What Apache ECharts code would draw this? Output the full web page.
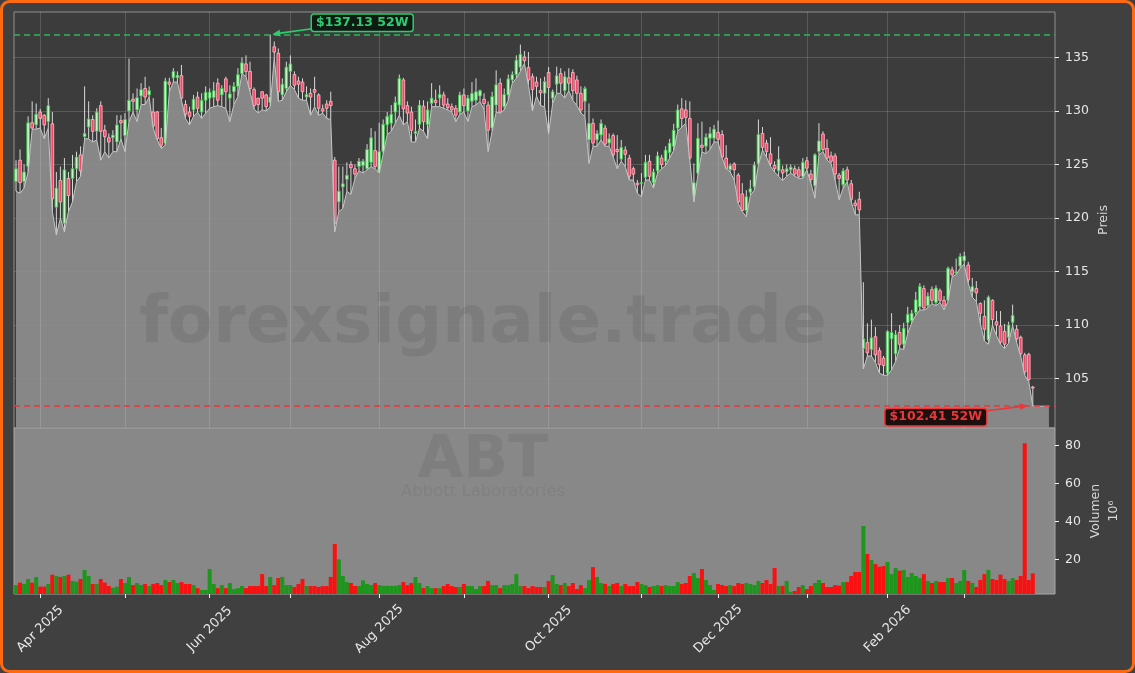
<!DOCTYPE html>
<html><head><meta charset="utf-8">
<script src="https://cdn.jsdelivr.net/npm/echarts@6/dist/echarts.min.js"></script>
<style>html,body{margin:0;padding:0;background:#ffffff;}#c{width:1135px;height:673px;}</style>
</head><body><div id="c"></div>
<script>
// ---------------- data ----------------
const ticker = 'ABT';
const companyName = 'Abbott Laboratories';
const watermarkText = 'forexsignale.trade';
const startDate = '2025-03-24';
const holidays = ['2025-04-18','2025-05-26','2025-06-19','2025-07-04','2025-09-01','2025-11-27','2025-12-25','2026-01-01','2026-01-19','2026-02-16'];
const priceTicks = [105,110,115,120,125,130,135];
const volumeTicks = [20,40,60,80];
const monthNames = ['Jan','Feb','Mar','Apr','May','Jun','Jul','Aug','Sep','Oct','Nov','Dec'];

const opens = [123.4,125.4,123.4,124.8,128.9,128.7,129.9,129.6,129.0,128.8,121.0,123.5,119.5,123.7,123.7,124.6,125.9,127.6,128.5,129.2,
128.1,130.5,128.2,127.5,127.5,127.1,129.1,127.7,130.0,131.1,130.1,131.4,132.1,131.5,129.9,129.9,127.5,127.0,132.7,133.1,
133.1,133.3,130.6,129.9,130.1,131.3,129.9,131.0,131.2,131.25,132.6,131.5,133.0,131.2,131.8,132.3,133.5,134.4,133.7,132.0,
131.2,131.8,131.5,130.8,136.0,135.4,131.5,132.1,133.7,133.4,132.8,132.7,131.3,131.65,132.0,131.5,130.2,130.65,130.9,125.4,
121.5,122.9,123.6,125.0,124.6,124.8,124.9,124.6,125.2,126.3,124.3,126.2,128.7,128.85,129.9,130.55,132.9,130.5,129.9,127.9,
128.75,130.45,128.75,130.7,131.0,131.2,131.5,130.65,130.4,130.25,129.9,131.5,130.0,130.9,131.0,131.4,131.1,130.55,128.4,130.55,
132.6,130.4,131.5,132.9,133.4,134.1,135.05,134.05,133.2,132.7,131.9,131.65,133.6,131.2,132.5,133.5,131.9,133.1,133.6,132.9,
131.65,130.9,127.3,128.85,127.3,127.75,128.4,127.0,127.7,126.4,125.5,126.35,125.6,124.6,123.25,123.2,123.8,125.3,123.3,124.4,
125.6,125.3,126.1,126.7,128.4,130.2,130.1,129.3,122.0,124.2,126.8,126.7,127.45,127.45,128.0,127.8,125.6,124.5,125.05,124.0,
122.25,120.7,122.4,122.9,125.05,127.9,127.0,126.0,124.9,124.4,124.5,124.3,124.5,124.6,124.5,123.85,125.35,124.1,123.0,126.2,
127.85,126.5,125.8,125.8,124.0,123.1,124.5,123.2,121.4,121.75,107.8,108.35,107.7,108.9,107.6,106.9,105.5,108.7,107.3,109.3,
108.2,110.2,110.4,111.15,111.7,113.4,111.8,113.3,112.1,113.2,112.3,112.3,115.15,114.9,115.5,116.0,115.6,113.1,113.4,112.0,
110.8,108.6,112.3,110.3,109.9,109.4,108.85,110.25,109.6,108.85,107.2,107.25,104.2];
const closes = [124.6,123.3,124.3,128.9,128.4,129.7,129.3,128.7,130.5,121.8,122.8,121.5,124.5,122.1,124.6,125.7,124.4,127.9,129.25,128.1,
129.9,128.1,127.6,127.1,127.75,128.7,128.9,129.2,131.0,130.9,131.25,132.0,131.3,131.9,128.6,127.4,126.8,132.8,132.5,133.7,
133.35,131.2,129.7,129.5,131.1,130.25,131.0,131.75,131.75,131.9,131.0,132.1,131.8,131.6,132.3,133.4,134.5,133.7,132.1,130.5,
130.6,131.2,130.4,131.3,135.5,131.8,132.5,134.1,134.4,132.4,132.5,131.8,131.55,131.3,131.75,130.25,130.0,130.25,130.5,119.5,
122.5,123.2,124.0,124.7,124.1,125.3,125.3,126.4,127.5,124.8,126.2,128.75,129.5,129.7,130.8,133.05,130.2,129.8,128.2,128.1,
130.55,129.0,130.1,131.2,130.8,131.55,130.55,130.3,130.1,129.6,131.5,130.5,131.2,131.65,131.8,131.9,130.7,128.2,131.35,132.45,
129.9,131.55,133.0,133.4,134.75,135.3,134.7,132.9,132.0,132.3,131.7,132.75,132.2,131.8,133.3,132.6,133.2,132.6,131.9,131.65,
130.1,132.1,128.85,127.0,127.9,128.85,126.9,127.4,125.9,126.2,126.6,125.95,123.9,124.1,123.1,123.3,125.2,123.9,124.3,125.8,
125.0,126.35,127.0,128.2,130.1,129.3,129.4,125.6,123.3,127.45,126.6,127.55,127.9,128.3,127.35,125.7,124.6,124.9,124.5,121.5,
120.7,122.0,122.75,124.95,127.8,126.6,126.2,125.1,124.6,125.5,124.2,124.6,124.75,124.1,123.9,125.2,124.65,123.6,125.9,127.2,
126.4,125.6,125.3,124.1,123.7,124.4,123.55,121.75,121.15,120.75,108.7,107.4,108.8,107.2,106.3,106.2,109.4,109.3,109.1,108.2,
109.7,111.0,111.1,112.35,113.6,111.6,112.7,112.3,113.45,112.3,111.8,115.3,114.7,114.95,116.4,116.45,114.2,113.6,113.0,111.1,
109.6,112.6,110.5,110.0,108.4,108.2,110.0,110.9,108.7,107.3,105.6,104.9,104.1];
const lows = [122.5,122.3,122.8,124.3,128.3,128.3,128.4,127.4,128.4,120.6,118.4,120.0,118.7,120.6,121.5,123.4,123.9,127.4,127.4,127.1,
127.3,125.4,126.2,125.6,126.2,126.2,127.4,126.2,129.0,129.9,129.0,130.6,130.6,131.3,128.4,127.3,126.5,126.8,131.8,132.7,
132.7,131.0,129.3,128.7,129.5,129.9,129.3,129.8,130.25,130.4,130.5,130.4,130.25,129.0,130.6,131.35,133.5,133.2,131.8,130.2,
129.8,130.1,130.0,130.4,135.0,130.9,131.0,131.8,132.4,132.0,131.2,131.0,131.0,129.6,130.4,129.6,129.8,129.3,129.2,118.7,
120.6,120.9,122.5,122.2,123.7,124.4,124.2,124.5,124.8,124.6,124.2,126.0,127.8,128.1,128.85,129.6,128.7,129.0,127.1,127.1,
128.4,128.1,127.4,130.4,130.4,130.4,130.25,130.1,129.9,129.0,129.7,129.9,129.0,130.4,130.55,130.9,130.1,126.2,128.1,129.9,
129.8,130.1,131.0,132.6,133.05,133.7,134.45,132.4,130.0,131.4,130.5,130.4,127.9,130.7,131.65,131.65,131.2,131.9,131.0,130.5,
129.8,129.5,125.1,126.7,126.7,127.3,126.7,126.7,125.7,124.6,125.3,124.8,123.55,123.55,122.3,122.0,123.55,123.55,122.8,124.2,
124.6,124.9,125.6,126.3,128.1,128.5,128.85,125.4,121.5,124.0,126.2,126.0,126.4,127.1,127.1,125.6,124.6,124.3,123.55,121.35,
120.6,120.1,122.1,122.6,124.95,126.35,125.7,124.8,124.3,123.9,123.5,123.9,124.2,123.9,123.7,123.7,124.5,123.25,121.85,125.9,
126.2,125.4,125.1,123.55,121.7,122.8,123.4,121.5,120.3,120.3,105.9,107.1,107.1,106.5,105.5,105.3,105.3,105.8,106.6,107.8,
107.7,109.2,110.2,110.9,111.4,111.4,111.6,112.0,111.8,112.1,111.4,112.2,114.5,114.7,115.3,115.7,113.9,112.6,112.2,110.1,
108.5,108.2,110.0,109.0,108.2,107.8,108.3,109.95,108.35,107.1,105.3,104.7,102.41];
const highs = [125.4,126.4,125.0,129.5,130.9,130.7,130.2,129.7,131.2,129.9,124.3,124.8,125.6,124.3,125.9,126.2,126.7,132.3,130.9,129.6,
130.25,130.9,128.7,127.9,128.2,129.6,129.6,129.8,134.9,131.65,132.1,132.6,133.2,132.3,131.2,130.0,128.4,133.1,133.1,134.0,
133.7,134.3,131.0,130.4,131.5,131.8,131.65,132.3,132.1,132.7,133.05,132.4,133.2,132.4,132.7,134.0,135.0,135.2,134.6,132.2,
131.2,131.8,131.6,137.13,136.5,135.85,133.05,134.6,135.2,133.7,133.2,133.05,132.3,132.1,133.2,131.65,130.6,131.0,131.8,125.7,
124.8,124.8,125.2,125.3,125.0,125.6,125.5,126.9,128.4,128.1,128.9,129.2,129.9,130.55,131.35,133.4,133.1,130.9,130.4,129.2,
131.0,131.0,130.9,132.6,132.0,132.4,131.8,131.2,130.7,130.55,131.8,132.1,131.5,132.7,133.05,132.0,131.65,130.9,131.8,133.8,
133.05,132.1,133.4,133.7,135.2,136.2,135.6,135.5,133.5,133.2,133.05,133.2,134.1,132.0,134.15,134.0,133.7,134.0,133.9,133.3,
132.3,132.3,130.7,129.3,128.2,129.2,128.7,127.9,127.9,127.75,127.3,126.7,125.9,124.8,123.55,124.2,125.9,125.9,124.6,126.2,
125.9,126.7,127.4,128.8,130.6,131.2,131.0,130.9,125.1,128.85,129.0,127.9,128.5,128.7,129.1,128.2,126.8,125.1,125.2,124.2,
123.25,122.6,123.55,125.25,129.2,128.5,127.3,127.55,125.3,126.7,124.9,125.0,125.0,124.9,124.8,125.6,125.7,124.5,126.05,128.85,
128.1,127.35,126.2,126.05,124.2,124.65,124.8,123.55,121.7,122.45,114.0,110.15,110.5,109.8,107.9,107.1,109.5,111.1,109.5,110.0,
110.2,111.7,111.4,113.1,113.9,113.7,113.05,113.6,113.7,113.4,112.7,115.45,115.45,116.2,116.7,116.85,115.9,114.4,114.1,112.1,
112.3,112.75,112.4,111.3,111.3,110.1,110.3,111.9,110.0,109.0,107.4,107.4,104.3];
const volumes = [6.4,7.7,7.0,9.6,7.7,10.7,5.6,5.6,7.0,11.9,11.2,10.7,11.2,11.9,8.6,8.2,9.6,14.4,11.2,7.0,
7.0,9.6,7.7,5.9,5.0,5.6,9.6,7.5,10.7,6.4,7.5,6.4,7.0,5.9,7.0,7.5,6.4,9.1,8.0,9.1,
7.5,8.0,7.0,7.0,6.4,4.8,3.8,3.8,14.9,7.0,4.8,6.4,4.8,7.5,4.3,4.8,5.9,4.8,5.9,5.9,
5.9,12.2,5.9,10.7,6.4,10.1,10.7,6.4,6.4,5.4,7.0,9.6,5.9,5.9,5.9,5.4,5.9,5.9,10.7,28.1,
20.0,11.2,8.0,7.5,5.9,5.9,8.9,7.0,6.4,7.5,6.4,6.0,6.0,6.0,6.0,6.4,8.0,6.4,7.5,10.7,
7.5,4.8,5.9,4.8,4.8,4.8,5.9,7.0,5.9,5.4,5.4,7.0,5.9,5.9,4.3,5.9,5.9,8.6,6.4,6.4,
4.8,6.4,6.4,7.0,12.2,5.9,5.9,4.8,5.9,5.4,5.4,5.4,8.6,11.7,7.0,6.4,7.5,5.9,7.5,4.3,
6.4,4.8,9.1,15.9,10.7,7.5,7.0,5.9,7.0,7.5,5.9,7.0,5.9,5.9,8.0,7.0,6.4,5.4,5.9,6.4,
5.9,6.4,5.9,5.9,8.0,7.0,7.5,11.2,12.8,10.1,14.9,9.1,6.4,3.8,7.0,6.4,5.9,6.4,5.9,7.5,
7.0,7.5,7.0,6.4,8.6,7.5,9.1,7.0,15.4,5.9,6.0,8.6,2.9,3.3,5.4,6.4,4.3,5.9,7.5,9.1,
7.5,5.4,5.4,6.4,6.1,8.0,8.0,11.2,13.3,13.3,37.6,22.8,19.6,17.5,16.1,16.5,18.6,12.2,15.4,14.0,
14.4,10.7,12.8,11.2,10.1,12.2,8.6,7.5,8.6,8.0,8.0,10.1,10.1,7.5,8.6,14.4,8.6,7.5,5.4,9.1,
12.2,14.4,9.6,9.1,11.9,9.6,8.6,10.1,9.1,11.2,81.3,9.1,12.6];

// ---------------- derived ----------------
function buildTradingDays(start, count, hol) {
  const out = []; const d = new Date(start + 'T12:00:00Z');
  while (out.length < count) {
    const wd = d.getUTCDay(); const s = d.toISOString().slice(0, 10);
    if (wd !== 0 && wd !== 6 && hol.indexOf(s) < 0) out.push(s);
    d.setUTCDate(d.getUTCDate() + 1);
  }
  return out;
}
const N = closes.length;
const dates = buildTradingDays(startDate, N, holidays);
const PAD = 5;
const categories = dates.concat(Array.from({length: PAD}, (_, k) => 'pad' + k));
const isMonthStart = categories.map((d, i) => i > 0 && i < N && d.slice(0, 7) !== categories[i - 1].slice(0, 7));
const isLabeled = categories.map((d, i) => isMonthStart[i] && (parseInt(d.slice(5, 7), 10) % 2 === 0));
const hi52 = Math.max.apply(null, highs);
const lo52 = Math.min.apply(null, lows);
const hiIdx = highs.indexOf(hi52);
const loIdx = lows.indexOf(lo52);
const areaVals = lows.concat(Array(PAD - 1).fill(lo52));
const candleData = dates.map((d, i) => [i, opens[i], closes[i], lows[i], highs[i]]);

// ---------------- style ----------------
const BG = '#404040', PANE = '#3c3c3c', AREA = '#8f8f8f', VOLBG = '#888888';
const UP_FILL = '#c9f2c9', UP_EDGE = '#3fbf4f', DN_FILL = '#f0496a', DN_EDGE = '#ffb0bc', WICK = '#d8d8d8';
const VGREEN = '#1e961e', VRED = '#fa1010';
const GRID = 'rgba(255,255,255,0.15)';
const TXT = '#e6e6e6';
const FONT = 'DejaVu Sans';

function renderCandle(params, api) {
  const i = api.value(0), o = api.value(1), c = api.value(2), l = api.value(3), h = api.value(4);
  const pH = api.coord([i, h]), pL = api.coord([i, l]), pO = api.coord([i, o]), pC = api.coord([i, c]);
  const w = api.size([1, 0])[0] * 0.66;
  const up = c >= o;
  const top = Math.min(pO[1], pC[1]);
  const ht = Math.max(Math.abs(pO[1] - pC[1]), 1);
  return {type: 'group', children: [
    {type: 'line', shape: {x1: pH[0], y1: pH[1], x2: pL[0], y2: pL[1]}, style: {stroke: WICK, lineWidth: 1}},
    {type: 'rect', shape: {x: pO[0] - w / 2, y: top, width: w, height: ht},
     style: {fill: up ? UP_FILL : DN_FILL, stroke: up ? UP_EDGE : DN_EDGE, lineWidth: 0.9}}
  ]};
}

const chart = echarts.init(document.getElementById('c'), null, {renderer: 'canvas'});
const option = {
  backgroundColor: BG,
  animation: false,
  grid: [
    {left: 14, top: 12, width: 1041, height: 416, show: true, backgroundColor: PANE, borderColor: '#8e8e8e', borderWidth: 1,
     outerBoundsMode: 'none', containLabel: false},
    {left: 14, top: 428, width: 1041, height: 166, show: true, backgroundColor: VOLBG, borderColor: '#a8a8a8', borderWidth: 1,
     outerBoundsMode: 'none', containLabel: false}
  ],
  xAxis: [
    {type: 'category', gridIndex: 0, data: categories, boundaryGap: true,
     axisLine: {show: false}, axisTick: {show: false}, axisLabel: {show: false}, splitLine: {show: false}},
    {type: 'category', gridIndex: 1, data: categories, boundaryGap: true,
     axisLine: {show: false},
     axisTick: {show: true, alignWithLabel: true, length: 4, lineStyle: {color: '#f0f0f0'}, interval: (i) => isMonthStart[i]},
     axisLabel: {show: true, rotate: 45, align: 'center', verticalAlign: 'middle', interval: (i) => isLabeled[i],
       color: TXT, fontFamily: FONT, fontSize: 13, margin: 35,
       formatter: (v) => monthNames[parseInt(v.slice(5, 7), 10) - 1] + ' ' + v.slice(0, 4)},
     splitLine: {show: false}}
  ],
  yAxis: [
    {type: 'value', gridIndex: 0, position: 'right', min: 100.37, max: 139.25, splitNumber: 8,
     axisLine: {show: false},
     axisTick: {show: true, length: 4, lineStyle: {color: '#f0f0f0'}, customValues: priceTicks},
     axisLabel: {color: TXT, fontFamily: FONT, fontSize: 12.5, margin: 10, customValues: priceTicks},
     splitLine: {show: true, lineStyle: {color: GRID, width: 1}},
     name: 'Preis', nameLocation: 'middle', nameGap: 42, nameRotate: 90, nameMoveOverlap: false,
     nameTextStyle: {color: '#d8d8d8', fontFamily: FONT, fontSize: 12.5}},
    {type: 'value', gridIndex: 1, position: 'right', min: 1.7, max: 89.35, splitNumber: 4,
     axisLine: {show: false},
     axisTick: {show: true, length: 4, lineStyle: {color: '#f0f0f0'}, customValues: volumeTicks},
     axisLabel: {color: TXT, fontFamily: FONT, fontSize: 12.5, margin: 10, customValues: volumeTicks},
     splitLine: {show: false},
     name: 'Volumen\n10⁶', nameLocation: 'middle', nameGap: 32, nameRotate: 90, nameMoveOverlap: false,
     nameTextStyle: {color: '#d8d8d8', fontFamily: FONT, fontSize: 12.5, lineHeight: 18}}
  ],
  series: [
    {type: 'custom', name: 'candles', xAxisIndex: 0, yAxisIndex: 0, data: candleData, z: 1,
     encode: {x: 0, y: [1, 2, 3, 4]}, renderItem: renderCandle, clip: true,
     markLine: {silent: true, symbol: ['none', 'none'], label: {show: false},
       lineStyle: {color: GRID, width: 1, type: 'solid'},
       data: categories.map((d, i) => isMonthStart[i] ? {xAxis: d} : null).filter(Boolean)}},
    {type: 'line', name: 'area', xAxisIndex: 0, yAxisIndex: 0, data: areaVals, z: 3,
     showSymbol: false, symbol: 'none', smooth: false,
     lineStyle: {color: '#c6c6c6', width: 1},
     areaStyle: {color: AREA, opacity: 0.9, origin: 'start'}},
    {type: 'line', name: 'levels', xAxisIndex: 0, yAxisIndex: 0, data: [], z: 5,
     markLine: {silent: true, symbol: ['none', 'none'], label: {show: false},
       data: [
         {yAxis: hi52, lineStyle: {color: '#2fb55a', width: 1.6, type: [6, 4]}},
         {yAxis: lo52, lineStyle: {color: '#e8383c', width: 1.6, type: [6, 4]}}
       ]}},
    {type: 'bar', name: 'volume', xAxisIndex: 1, yAxisIndex: 1, barCategoryGap: '0%', z: 2,
     data: volumes.map((v, i) => ({value: v, itemStyle: {color: closes[i] >= opens[i] ? VGREEN : VRED}}))}
  ],
  graphic: [
    {type: 'text', z: 10, silent: true, x: 483, y: 325,
     style: {text: watermarkText, font: 'bold 66px "DejaVu Sans"', fill: 'rgba(0,0,0,0.08)', align: 'center', verticalAlign: 'middle'}},
    {type: 'text', z: 10, silent: true, x: 483, y: 462,
     style: {text: ticker, font: 'bold 59px "DejaVu Sans"', fill: 'rgba(0,0,0,0.07)', align: 'center', verticalAlign: 'middle'}},
    {type: 'text', z: 10, silent: true, x: 483, y: 492,
     style: {text: companyName, font: '16.5px "DejaVu Sans"', fill: 'rgba(0,0,0,0.06)', align: 'center', verticalAlign: 'middle'}},
    {type: 'rect', z: 20, silent: true, shape: {x: 1.5, y: 1.5, width: 1132, height: 670, r: 8},
     style: {fill: 'none', stroke: '#ff6a10', lineWidth: 3}}
  ]
};
chart.setOption(option);

// ---------- 52W annotations anchored to data ----------
function arrow(p0, p1, color) {
  const ang = Math.atan2(p1[1] - p0[1], p1[0] - p0[0]);
  const L = 8, W = 3.5;
  const bx = p1[0] - L * Math.cos(ang), by = p1[1] - L * Math.sin(ang);
  const nx = -Math.sin(ang) * W, ny = Math.cos(ang) * W;
  return [
    {type: 'line', z: 12, silent: true, shape: {x1: p0[0], y1: p0[1], x2: bx, y2: by}, style: {stroke: color, lineWidth: 1.6}},
    {type: 'polygon', z: 12, silent: true, shape: {points: [[p1[0], p1[1]], [bx + nx, by + ny], [bx - nx, by - ny]]}, style: {fill: color}}
  ];
}
const pHi = chart.convertToPixel({xAxisIndex: 0, yAxisIndex: 0}, [hiIdx, hi52]);
const pLo = chart.convertToPixel({xAxisIndex: 0, yAxisIndex: 0}, [loIdx, lo52]);
const GREEN_T = '#2ecc71', RED_T = '#e8383c';
const extra = [].concat(
  arrow([pHi[0] + 42, pHi[1] - 6], [pHi[0] + 2, pHi[1] - 0.5], GREEN_T),
  [{type: 'text', z: 13, silent: true, x: pHi[0] + 92, y: pHi[1] - 12,
    style: {text: '$' + hi52.toFixed(2) + ' 52W', font: 'bold 12.5px "DejaVu Sans"', fill: GREEN_T,
      align: 'center', verticalAlign: 'middle', backgroundColor: '#0f1a12', borderColor: GREEN_T, borderWidth: 1.5, borderRadius: 2, padding: [2, 4, 1, 4]}}],
  arrow([pLo[0] - 46, pLo[1] + 4.5], [pLo[0] - 5, pLo[1] - 0.5], RED_T),
  [{type: 'text', z: 13, silent: true, x: pLo[0] - 97, y: pLo[1] + 11,
    style: {text: '$' + lo52.toFixed(2) + ' 52W', font: 'bold 12.5px "DejaVu Sans"', fill: RED_T,
      align: 'center', verticalAlign: 'middle', backgroundColor: '#1e0f0f', borderColor: RED_T, borderWidth: 1.5, borderRadius: 2, padding: [2, 4, 1, 4]}}]
);
chart.setOption({graphic: option.graphic.concat(extra)});
</script>
</body></html>
